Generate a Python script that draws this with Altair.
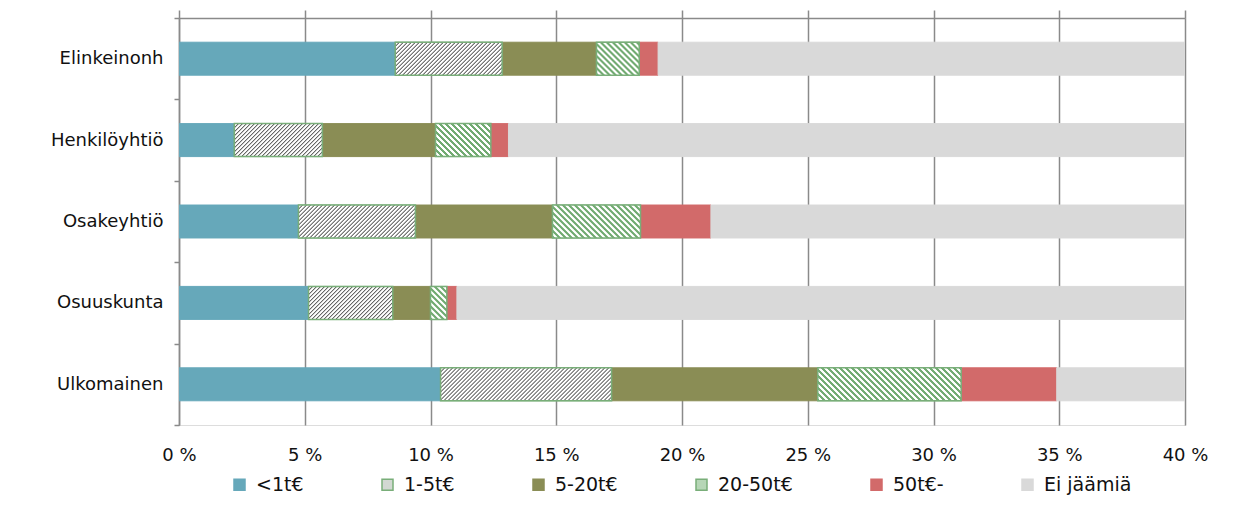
import altair as alt
import pandas as pd

# ---------------- data ----------------
categories = ["Elinkeinonh", "Henkilöyhtiö", "Osakeyhtiö", "Osuuskunta", "Ulkomainen"]
series = ["<1t€", "1-5t€", "5-20t€", "20-50t€", "50t€-", "Ei jäämiä"]

s_lt1 = [8.6, 2.2, 4.75, 5.15, 10.4]
s_1_5 = [4.25, 3.5, 4.65, 3.35, 6.8]
s_5_20 = [3.75, 4.5, 5.45, 1.5, 8.2]
s_20_50 = [1.7, 2.2, 3.5, 0.65, 5.7]
s_50 = [0.75, 0.7, 2.8, 0.4, 3.8]
s_ei = [80.95, 86.9, 78.85, 88.95, 65.1]

x_ticks = [0, 5, 10, 15, 20, 25, 30, 35, 40]

# ---------------- style ----------------
FONT = "DejaVu Sans"
TEAL = "#66A8BA"
OLIVE = "#8A8D55"
RED = "#D26A6A"
GRAY = "#D9D9D9"
GREEN = "#79AE79"
AXIS = "#8A8A8A"

PLOT_W = 1006
PLOT_H = 407
BAND_FRAC = 0.405
BAR_H = PLOT_H / len(categories) * BAND_FRAC

legend_fill = [TEAL, "#D2D8D2", OLIVE, "#B6D6B6", RED, GRAY]
legend_stroke = [TEAL, GREEN, OLIVE, GREEN, RED, GRAY]

all_series = [s_lt1, s_1_5, s_5_20, s_20_50, s_50, s_ei]
rows = []
for i, cat in enumerate(categories):
    start = 0.0
    for j, name in enumerate(series):
        v = all_series[j][i]
        rows.append(dict(cat=cat, series=name, order=j, start=start, end=start + v, value=v))
        start += v
df = pd.DataFrame(rows)

xscale = alt.Scale(domain=[0, 40], nice=False, zero=True)
yscale = alt.Scale(paddingInner=0, paddingOuter=0)


def stripe_gradient(w, h, period, core, ramp, c_line, c_bg, direction):
    """Diagonal stripes at 45 degrees drawn as a repeating linear gradient.
    core / ramp are fractions of one period (solid line part / soft edge)."""
    L = w + h
    n = L / period
    k = (w + h) / (w * w + h * h)
    stops = []
    i = 0
    while i < n:
        pts = [
            (i, c_line),
            (i + core, c_line),
            (i + core + ramp, c_bg),
            (i + 1 - ramp, c_bg),
        ]
        for p, c in pts:
            stops.append({"offset": min(p / n, 1.0), "color": c})
        i += 1
    stops.append({"offset": 1.0, "color": stops[-1]["color"]})
    if direction == "/":
        g = dict(x1=0, y1=0, x2=k * w, y2=k * h)
    else:
        g = dict(x1=0, y1=1, x2=k * w, y2=1 - k * h)
    return alt.LinearGradient(gradient="linear", stops=stops, **g)


legend = alt.Legend(
    title=None,
    orient="none",
    legendX=51,
    legendY=457,
    direction="horizontal",
    columnPadding=74,
    symbolType="square",
    symbolSize=121,
    symbolStrokeWidth=1.5,
    labelFont=FONT,
    labelFontSize=19,
    labelColor="#111111",
    labelOffset=7,
    padding=0,
)

base = alt.Chart(df).mark_bar(clip=True, strokeWidth=1, height=alt.RelativeBandSize(BAND_FRAC)).encode(
    x=alt.X(
        "start:Q",
        scale=xscale,
        axis=alt.Axis(
            orient="bottom",
            title=None,
            values=x_ticks,
            labelExpr="datum.value + ' %'",
            labelFlush=False,
            grid=True,
            gridColor=AXIS,
            gridWidth=1.5,
            domain=False,
            ticks=False,
            labelPadding=21,
            labelFont=FONT,
            labelFontSize=18,
            labelColor="#111111",
        ),
    ),
    x2="end:Q",
    y=alt.Y(
        "cat:N",
        sort=categories,
        scale=yscale,
        axis=alt.Axis(
            title=None,
            orient="left",
            tickBand="extent",
            domain=True,
            domainColor=AXIS,
            domainWidth=1.5,
            ticks=True,
            tickColor=AXIS,
            tickWidth=1.5,
            tickSize=5,
            labelPadding=11,
            labelFont=FONT,
            labelFontSize=18,
            labelColor="#111111",
            grid=False,
        ),
    ),
    color=alt.Color("series:N", sort=series, scale=alt.Scale(domain=series, range=legend_fill), legend=legend),
    stroke=alt.Stroke("series:N", sort=series, scale=alt.Scale(domain=series, range=legend_stroke), legend=legend),
    order=alt.Order("order:Q"),
)

layers = [base]

hatch_specs = {
    "1-5t€": dict(period=4.0, core=0.1, ramp=0.25, c_line="#666666", c_bg="#FFFFFF", direction="/"),
    "20-50t€": dict(period=6.0, core=0.4, ramp=0.1, c_line="#72AB72", c_bg="#FFFFFF", direction="\\"),
}

for name, spec in hatch_specs.items():
    sub = df[df["series"] == name]
    for _, r in sub.iterrows():
        w = max((min(r["end"], 40) - r["start"]) / 40 * PLOT_W, 1.0)
        grad = stripe_gradient(w, BAR_H, **spec)
        one = pd.DataFrame([r.to_dict()])
        layers.append(
            alt.Chart(one)
            .mark_bar(clip=True, fill=grad, stroke=GREEN, strokeWidth=1.5, height=alt.RelativeBandSize(BAND_FRAC))
            .encode(
                x=alt.X("start:Q", scale=xscale, axis=None),
                x2="end:Q",
                y=alt.Y("cat:N", sort=categories, scale=yscale, axis=None),
            )
        )

top_axis = alt.Chart(df).mark_rule(opacity=0).encode(
    x=alt.X(
        "start:Q",
        scale=xscale,
        axis=alt.Axis(
            orient="top",
            title=None,
            values=x_ticks,
            labels=False,
            grid=False,
            domain=True,
            domainColor=AXIS,
            domainWidth=1.5,
            ticks=True,
            tickColor=AXIS,
            tickWidth=1.5,
            tickSize=8,
        ),
    )
)
layers.append(top_axis)

chart = (
    alt.layer(*layers)
    .resolve_axis(x="independent", y="independent")
    .properties(
        width=PLOT_W,
        height=PLOT_H,
        autosize=alt.AutoSizeParams(type="none"),
        padding={"left": 171, "top": 10, "right": 65, "bottom": 81},
        background="white",
    )
    .configure_view(stroke=None)
    .configure(font=FONT)
)

chart.save("out.html", embed_options={"renderer": "svg", "actions": False})
